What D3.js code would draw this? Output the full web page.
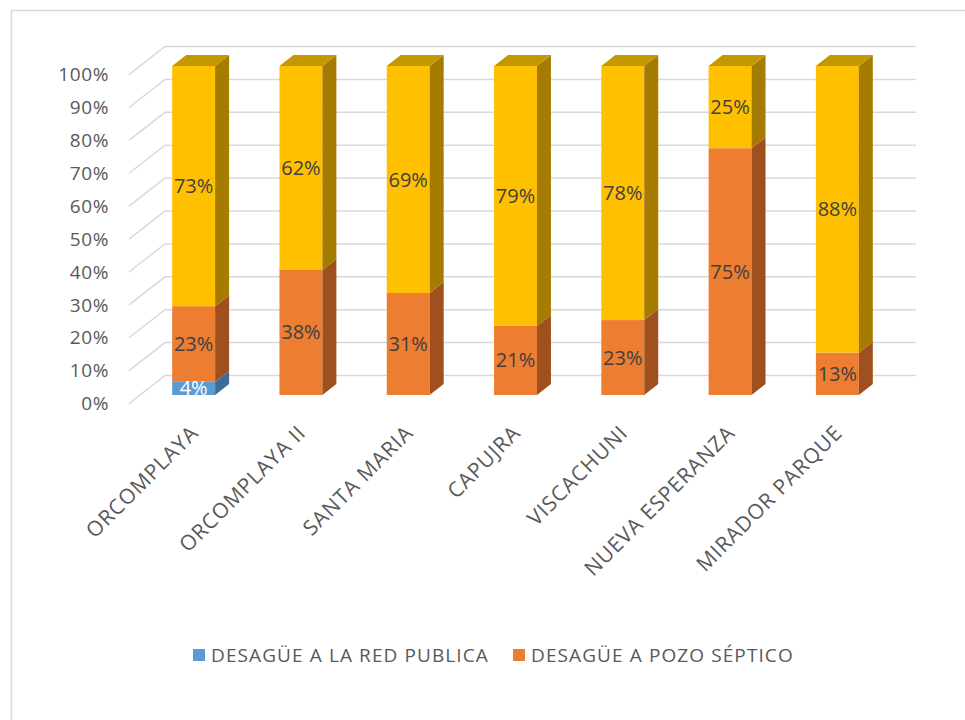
<!DOCTYPE html>
<html>
<head>
<meta charset="utf-8">
<script src="https://cdn.jsdelivr.net/npm/d3@7"></script>
<style>
  html, body { margin: 0; padding: 0; background: #fff; }
  svg { display: block; font-family: "Open Sans", "Noto Sans", sans-serif; }
</style>
</head>
<body>
<svg id="chart" width="965" height="720"></svg>
<script>
// Sanitation type per neighbourhood (percent of households)
const categories = ["ORCOMPLAYA", "ORCOMPLAYA II", "SANTA MARIA", "CAPUJRA", "VISCACHUNI", "NUEVA ESPERANZA", "MIRADOR PARQUE"];
const redPublica = [4, 0, 0, 0, 0, 0, 0];
const pozoSeptico = [23, 38, 31, 21, 23, 75, 13];
const otros = [73, 62, 69, 79, 78, 25, 88];
const seriesNames = ["DESAGÜE A LA RED PUBLICA", "DESAGÜE A POZO SÉPTICO", "OTROS"];
const yTicks = [0, 0.1, 0.2, 0.3, 0.4, 0.5, 0.6, 0.7, 0.8, 0.9, 1];

const colors = {
  front: ["#5B9BD5", "#ED7D31", "#FFC000"],
  side:  ["#3D6C97", "#A0501F", "#A67C00"],
  top:   ["#4A80B3", "#C4621F", "#C49800"]
};

const svg = d3.select("#chart");

// chart frame
svg.append("rect")
  .attr("x", 11.5).attr("y", 10.5).attr("width", 1000).attr("height", 1000)
  .attr("fill", "none").attr("stroke", "#d9d9d9").attr("stroke-width", 1.5);

// oblique projection: depth d moves a point by (d, -slope*d)
const slope = 0.78;
const barDepth = 14, wallDepth = 25, wallFront = -11;

const x = d3.scaleBand().domain(categories).range([140, 891]).paddingInner(0.6).paddingOuter(0.3);
const y = d3.scaleLinear().domain([0, 1]).range([395, 66]);

// wall gridlines (side wall diagonal + back wall)
const grid = svg.append("g");
yTicks.forEach(t => {
  const yf = y(t);
  const pts = [
    [140 + wallFront, yf - slope * wallFront],
    [140 + wallDepth, yf - slope * wallDepth],
    [891 + wallDepth, yf - slope * wallDepth]
  ];
  grid.append("path")
    .attr("d", d3.line()(pts))
    .attr("fill", "none").attr("stroke", "#d9d9d9").attr("stroke-width", 1.5);
});

// y axis labels at the front edge of the side wall
svg.append("g").selectAll("text").data(yTicks).join("text")
  .attr("x", 109)
  .attr("y", d => y(d) - slope * wallFront)
  .attr("dy", "0.35em")
  .attr("text-anchor", "end")
  .attr("font-size", 19)
  .attr("letter-spacing", 0.6)
  .attr("fill", "#595959")
  .text(d => d3.format(".0%")(d));

// stacked data normalised to 100%
const rows = categories.map((c, i) => ({ cat: c, s0: redPublica[i], s1: pozoSeptico[i], s2: otros[i] }));
const stacked = d3.stack().keys(["s0", "s1", "s2"]).offset(d3.stackOffsetExpand)(rows);

const bars = svg.append("g");
categories.forEach((c, i) => {
  const x0 = x(c), x1 = x0 + x.bandwidth();
  const dx = barDepth, dy = -slope * barDepth;
  // topmost non-empty segment gets the top face
  let topIdx = -1;
  stacked.forEach((s, k) => { if (s[i][1] - s[i][0] > 0) topIdx = k; });
  stacked.forEach((s, k) => {
    const [v0, v1] = s[i];
    if (v1 - v0 <= 0) return;
    const yb = y(v0), yt = y(v1);
    bars.append("rect")
      .attr("x", x0).attr("y", yt).attr("width", x1 - x0).attr("height", yb - yt)
      .attr("fill", colors.front[k]);
    bars.append("path")
      .attr("d", d3.line()([[x1, yb], [x1 + dx, yb + dy], [x1 + dx, yt + dy], [x1, yt]]) + "Z")
      .attr("fill", colors.side[k]);
    if (k === topIdx) {
      bars.append("path")
        .attr("d", d3.line()([[x0, yt], [x1, yt], [x1 + dx, yt + dy], [x0 + dx, yt + dy]]) + "Z")
        .attr("fill", colors.top[k]);
    }
  });
});

// value labels centred on each segment's front face
const values = [redPublica, pozoSeptico, otros];
const labels = svg.append("g");
stacked.forEach((s, k) => {
  categories.forEach((c, i) => {
    const v = values[k][i];
    if (!v) return;
    const [v0, v1] = s[i];
    labels.append("text")
      .attr("x", x(c) + x.bandwidth() / 2)
      .attr("y", (y(v0) + y(v1)) / 2)
      .attr("dy", "0.35em")
      .attr("text-anchor", "middle")
      .attr("font-size", 20)
      .attr("fill", k === 0 ? "#ffffff" : "#404040")
      .text(v + "%");
  });
});

// category labels, rotated
svg.append("g").selectAll("text").data(categories).join("text")
  .attr("transform", d => `translate(${x(d) + x.bandwidth() / 2 + 1},${429}) rotate(-45)`)
  .attr("text-anchor", "end")
  .attr("dy", "0.35em")
  .attr("font-size", 21)
  .attr("letter-spacing", 0.9)
  .attr("fill", "#595959")
  .text(d => d);

// legend (two entries)
const legendItems = [
  { name: seriesNames[0], color: colors.front[0], x: 193 },
  { name: seriesNames[1], color: colors.front[1], x: 513 }
];
const lg = svg.append("g");
legendItems.forEach(it => {
  lg.append("rect").attr("x", it.x).attr("y", 649).attr("width", 12).attr("height", 12).attr("fill", it.color);
  lg.append("text").attr("x", it.x + 18).attr("y", 655).attr("dy", "0.35em")
    .attr("font-size", 19).attr("letter-spacing", 1.1).attr("fill", "#595959").text(it.name);
});
</script>
</body>
</html>
